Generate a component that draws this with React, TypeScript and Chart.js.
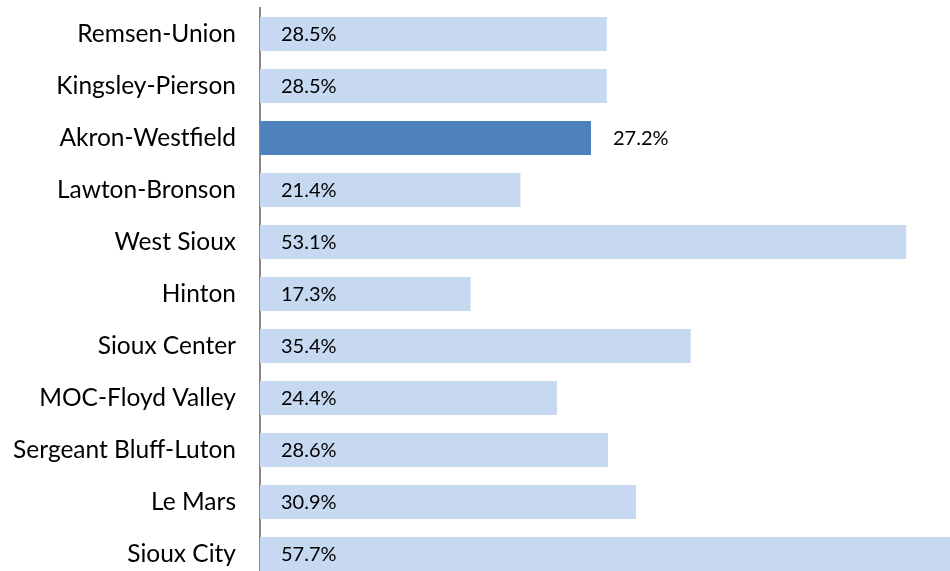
import React, { useEffect, useRef } from "react";
import { Chart, registerables } from "chart.js";

Chart.register(...registerables);

const categories = [
  "Remsen-Union",
  "Kingsley-Pierson",
  "Akron-Westfield",
  "Lawton-Bronson",
  "West Sioux",
  "Hinton",
  "Sioux Center",
  "MOC-Floyd Valley",
  "Sergeant Bluff-Luton",
  "Le Mars",
  "Sioux City",
];
const values = [28.5, 28.5, 27.2, 21.4, 53.1, 17.3, 35.4, 24.4, 28.6, 30.9, 57.7];
const highlighted = ["Akron-Westfield"];

const LIGHT = "#c6d9f1";
const DARK = "#4f81bd";
const FONT = "Lato, 'Open Sans', sans-serif";

const labelPlugin = {
  id: "valueLabels",
  afterDatasetsDraw(chart: any) {
    const ctx = chart.ctx;
    const meta = chart.getDatasetMeta(0);
    ctx.save();
    ctx.font = `20px ${FONT}`;
    ctx.fillStyle = "#000";
    ctx.textBaseline = "middle";
    ctx.textAlign = "left";
    meta.data.forEach((bar: any, i: number) => {
      const txt = values[i].toFixed(1) + "%";
      const isHi = highlighted.includes(categories[i]);
      const x = isHi ? bar.x + 22 : bar.base + 21;
      ctx.fillText(txt, x, bar.y + 1);
    });
    ctx.restore();
  },
};

export default function App() {
  const ref = useRef<HTMLCanvasElement | null>(null);
  useEffect(() => {
    if (!ref.current) return;
    const chart = new Chart(ref.current, {
      type: "bar",
      data: {
        labels: categories,
        datasets: [
          {
            data: values,
            backgroundColor: categories.map((c) => (highlighted.includes(c) ? DARK : LIGHT)),
            borderWidth: 0,
            barPercentage: 0.655,
            categoryPercentage: 1,
          },
        ],
      },
      options: {
        indexAxis: "y",
        animation: false,
        responsive: false,
        maintainAspectRatio: false,
        layout: { padding: { top: 8, bottom: 0, left: 0, right: 0 } },
        plugins: {
          legend: { display: false },
          tooltip: { enabled: false },
        },
        scales: {
          x: {
            min: 0,
            max: 56.7,
            display: false,
            grid: { display: false },
          },
          y: {
            grid: { display: false, drawTicks: false },
            border: { display: true, color: "#868686", width: 2 },
            ticks: {
              color: "#000",
              font: { family: FONT, size: 24.5 },
              padding: 24,
            },
            afterFit(scale: any) {
              scale.width = 260;
              scale.paddingTop = 0;
              scale.paddingBottom = 0;
            },
          },
        },
      },
      plugins: [labelPlugin],
    });
    return () => chart.destroy();
  }, []);
  return (
    <div style={{ position: "absolute", left: 0, top: 0, width: 950, height: 580 }}>
      <canvas ref={ref} width={950} height={580} style={{ display: "block", width: 950, height: 580 }} />
    </div>
  );
}
